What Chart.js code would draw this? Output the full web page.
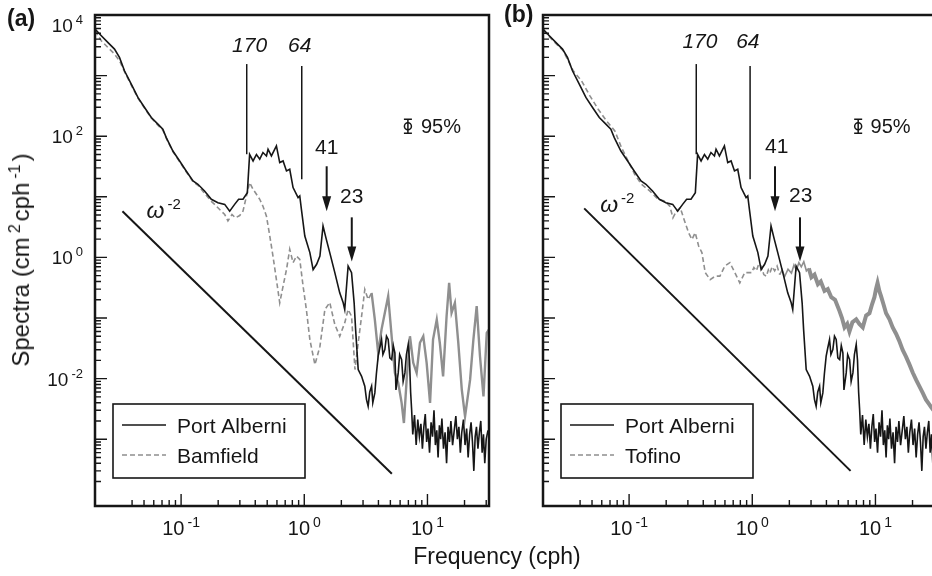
<!DOCTYPE html>
<html>
<head>
<meta charset="utf-8">
<script src="https://cdn.jsdelivr.net/npm/chart.js@4.4.1/dist/chart.umd.min.js"></script>
<style>
  html, body { margin: 0; padding: 0; background: #fff; overflow: hidden; }
  #wrap { position: relative; width: 932px; height: 576px; overflow: hidden;
          font-family: "Liberation Sans", Arial, Helvetica, sans-serif; color: #161616; }
  canvas { position: absolute; top: 0; }
  #chartA { left: 0; }
  #chartB { left: 490px; }
  .ytitle { position: absolute; left: 21px; top: 260px; white-space: nowrap;
            transform: translate(-50%, -50%) rotate(-90deg); font-size: 24px; line-height: 24px; }
  .xtitle { position: absolute; left: 497px; top: 545px; transform: translateX(-50%);
            font-size: 23px; line-height: 23px; white-space: nowrap; }
  sup { font-size: 16px; vertical-align: 9px; line-height: 0; margin: 0 3px 0 4px; }
</style>
</head>
<body>
<div id="wrap">
  <canvas id="chartA" width="500" height="576"></canvas>
  <canvas id="chartB" width="460" height="576"></canvas>
  <div class="ytitle">Spectra (cm<sup>2</sup>cph<sup>-1</sup>)</div>
  <div class="xtitle">Frequency (cph)</div>
</div>
<script>
// Port Alberni (same record in both panels)
const paFreq = [
  0.020, 0.0225, 0.0254, 0.0288, 0.0316, 0.0347, 0.0394, 0.0446, 0.0505, 0.0573,
  0.0648, 0.0711, 0.0758, 0.0858, 0.0973, 0.110, 0.125, 0.137, 0.155, 0.176,
  0.199, 0.226, 0.248, 0.272, 0.293, 0.318, 0.345, 0.360, 0.384, 0.409,
  0.435, 0.462, 0.493, 0.508, 0.541, 0.594, 0.632, 0.673, 0.717, 0.762,
  0.811, 0.891, 0.919, 0.948, 1.01, 1.11, 1.18, 1.26, 1.34, 1.42,
  1.51, 1.61, 1.77, 1.94, 2.07, 2.13, 2.27, 2.42, 2.54, 2.61,
  2.74, 2.92, 3.10, 3.20, 3.30, 3.40, 3.52, 3.60, 3.74, 3.85,
  3.98, 4.10, 4.24, 4.35, 4.51, 4.65, 4.80, 4.95, 5.12, 5.28,
  5.44, 5.55, 5.79, 5.95, 6.17, 6.35, 6.56, 6.75, 6.98, 7.15,
  7.30, 7.44, 7.6, 7.85, 8.1, 8.35, 8.6, 8.85, 9.1, 9.35,
  9.6, 9.85, 10.1, 10.4, 10.7, 11.0, 11.3, 11.6, 11.9, 12.2,
  12.5, 12.8, 13.1, 13.5, 13.9, 14.3, 14.7, 15.1, 15.5, 16.0,
  16.5, 17.0, 17.5, 18.0, 18.5, 19.0, 19.6, 20.2, 20.8, 21.4,
  22.0, 22.6, 23.2, 23.8, 24.4, 25.0, 25.7, 26.4, 27.1, 27.8,
  28.5, 29.2, 30.0, 31.0
];
const paSpec = [
  5870, 4550, 3540, 2740, 2000, 1200, 724, 436, 298, 204,
  158, 131, 95, 57, 39, 26.7, 18.2, 16.1, 12.5, 9.1,
  8.0, 7.5, 5.8, 7.5, 9.1, 9.1, 11.7, 50, 39, 50,
  41.7, 53.8, 47.2, 61, 47.2, 69, 36.7, 39, 26.7, 28.5,
  14.2, 9.7, 10.3, 6.2, 2.25, 1.2, 0.63, 0.77, 1.05, 3.3,
  1.98, 1.2, 0.56, 0.26, 0.178, 0.138, 0.72, 0.56, 0.178, 0.065,
  0.0141, 0.0109, 0.0075, 0.0045, 0.0035, 0.0060, 0.0075, 0.0040, 0.0058, 0.012,
  0.0234, 0.032, 0.0442, 0.025, 0.0301, 0.050, 0.0442, 0.022, 0.0206, 0.035,
  0.0266, 0.0065, 0.0124, 0.025, 0.0206, 0.009, 0.0124, 0.025, 0.0365, 0.02,
  0.006, 0.00307, 0.0012, 0.0025, 0.0008, 0.0021, 0.0011, 0.0018, 0.0007, 0.0016,
  0.0026, 0.0009, 0.0015, 0.0006, 0.0019, 0.0011, 0.0030, 0.0008, 0.0014, 0.0005,
  0.0017, 0.0010, 0.0022, 0.0007, 0.0013, 0.0004, 0.0016, 0.0009, 0.0020, 0.0008,
  0.0014, 0.0024, 0.0010, 0.0016, 0.0006, 0.0013, 0.0021, 0.0008, 0.0015, 0.0005,
  0.0012, 0.0019, 0.0009, 0.0003, 0.0011, 0.0016, 0.0007, 0.0013, 0.0020, 0.0006,
  0.0012, 0.0004, 0.0010, 0.0014
];

// Bamfield (panel a)
const bamFreq = [
  0.020, 0.0225, 0.0254, 0.0288, 0.0316, 0.0347, 0.0394, 0.0446, 0.0505, 0.0573,
  0.0648, 0.0711, 0.0758, 0.0858, 0.0973, 0.110, 0.125, 0.137, 0.155, 0.176,
  0.187, 0.212, 0.226, 0.240, 0.259, 0.276, 0.299, 0.318, 0.339, 0.360,
  0.384, 0.409, 0.435, 0.462, 0.493, 0.525, 0.557, 0.594, 0.632, 0.673,
  0.717, 0.762, 0.811, 0.864, 0.919, 0.978, 1.04, 1.11, 1.22, 1.34,
  1.47, 1.61, 1.77, 1.94, 2.13, 2.27, 2.42, 2.58, 2.74, 2.92,
  3.10, 3.30, 3.52, 3.74, 3.98, 4.24, 4.51, 4.80, 5.12, 5.44,
  5.79, 6.17, 6.44, 6.78, 7.21, 7.67, 8.17, 8.69, 9.25, 9.85,
  10.5, 11.1, 11.9, 12.6, 13.4, 14.3, 15.0, 15.7, 16.7, 17.8,
  19.0, 20.2, 22.2, 23.6, 25.1, 26.7, 28.5, 30.3, 31.6
];
const bamSpec = [
  5500, 3760, 2920, 2270, 1760, 1160, 697, 425, 290, 199,
  152, 126, 92.7, 55.5, 37.9, 25.9, 17.7, 15.5, 11.4, 8.4,
  7.5, 5.8, 5.1, 4.0, 5.1, 4.5, 4.9, 5.8, 10.2, 17.2,
  13.3, 11.0, 9.1, 7.0, 4.8, 2.25, 1.05, 0.43, 0.178, 0.336,
  0.63, 1.36, 0.82, 1.05, 0.93, 0.336, 0.138, 0.044, 0.017, 0.034,
  0.138, 0.18, 0.078, 0.050, 0.083, 0.138, 0.107, 0.0141, 0.039, 0.107,
  0.296, 0.202, 0.26, 0.094, 0.0266, 0.065, 0.122, 0.229, 0.050, 0.0124,
  0.0085, 0.00397, 0.00185, 0.0096, 0.050, 0.0182, 0.0124, 0.039, 0.050, 0.0182,
  0.00397, 0.044, 0.094, 0.039, 0.0109, 0.107, 0.382, 0.122, 0.178, 0.039,
  0.0066, 0.00238, 0.0096, 0.044, 0.157, 0.0234, 0.0051, 0.057, 0.065
];

// Tofino (panel b)
const tofFreq = [
  0.0201, 0.0292, 0.0352, 0.0411, 0.0481, 0.0561, 0.0655, 0.0766, 0.0867, 0.0982,
  0.111, 0.126, 0.147, 0.172, 0.195, 0.214, 0.227, 0.242, 0.260, 0.282,
  0.304, 0.324, 0.344, 0.367, 0.390, 0.415, 0.455, 0.500, 0.546, 0.598,
  0.658, 0.722, 0.792, 0.869, 0.986, 1.03, 1.08, 1.13, 1.19, 1.24,
  1.30, 1.35, 1.39, 1.45, 1.52, 1.59, 1.67, 1.75, 1.83, 1.95,
  2.08, 2.18, 2.28, 2.39, 2.50, 2.62, 2.75, 2.88, 3.02, 3.2,
  3.41, 3.6, 3.86, 4.1, 4.38, 4.7, 5.11, 5.35, 5.61, 5.9,
  6.15, 6.5, 6.98, 7.4, 7.89, 8.4, 8.94, 9.4, 9.81, 10.1,
  10.4, 10.75, 11.1, 11.6, 12.2, 13.0, 13.8, 14.7, 15.6, 16.6,
  17.7, 18.9, 20.1, 21.4, 22.7, 24.2, 25.7, 27.0, 28.3, 30.0, 31.6
];
const tofSpec = [
  5500, 2570, 1200, 820, 463, 279, 179, 122, 65, 39,
  23.5, 16.1, 12.5, 9.1, 8.5, 7.0, 4.5, 5.8, 6.6, 4.0,
  2.56, 1.98, 2.56, 1.54, 1.2, 0.56, 0.43, 0.49, 0.49, 0.72,
  0.82, 0.56, 0.38, 0.56, 0.56, 0.68, 0.60, 0.78, 0.70, 0.52,
  0.49, 0.62, 0.55, 0.70, 0.60, 0.72, 0.52, 0.62, 0.48, 0.64,
  0.55, 0.75, 0.62, 0.82, 0.70, 0.85, 0.60, 0.66, 0.47, 0.52,
  0.36, 0.40, 0.28, 0.30, 0.22, 0.20, 0.13, 0.10, 0.07, 0.08,
  0.06, 0.085, 0.095, 0.08, 0.07, 0.11, 0.12, 0.17, 0.22, 0.30,
  0.38, 0.28, 0.23, 0.17, 0.12, 0.095, 0.07, 0.055, 0.042, 0.03,
  0.023, 0.017, 0.0125, 0.0095, 0.0075, 0.0058, 0.0045, 0.0039, 0.0034, 0.0029, 0.0026
];

// omega^-2 reference slope, one per panel
const slopeFreqA = [0.0334, 5.14];
const slopeSpecA = [5.76, 2.69e-4];
const slopeFreqB = [0.0432, 6.28];
const slopeSpecB = [6.45, 3.0e-4];

// axis ranges and labelled decades
const xRange = [0.02, 31.6];
const yRange = [7.9e-5, 1e4];
const xLabelExps = [-1, 0, 1];
const yLabelExps = [4, 2, 0, -2];

const INK = '#161616';
const GRAY = '#8f8f8f';
const FONT = '"Liberation Sans", Arial, Helvetica, sans-serif';

function pts(xs, ys) {
    return xs.map((v, i) => ({ x: v, y: ys[i] }));
}

// "10" with a raised exponent
function drawPow(ctx, exp, x, base, align, size) {
    const sup = exp < 0 ? '-' + Math.abs(exp) : String(exp);
    const supSize = Math.round(size * 0.68);
    ctx.font = size + 'px ' + FONT;
    const w1 = ctx.measureText('10').width;
    ctx.font = supSize + 'px ' + FONT;
    const w2 = ctx.measureText(sup).width;
    const gap = 3;
    const total = w1 + gap + w2;
    let x0 = x;
    if (align === 'center') x0 = x - total / 2;
    else if (align === 'right') x0 = x - total;
    ctx.textAlign = 'left';
    ctx.textBaseline = 'alphabetic';
    ctx.font = size + 'px ' + FONT;
    ctx.fillText('10', x0, base);
    ctx.font = supSize + 'px ' + FONT;
    ctx.fillText(sup, x0 + w1 + gap, base - size * 0.42);
}

function makeDecor(p) {
    return {
        id: 'decor',
        afterDatasetsDraw(chart) {
            const { ctx, chartArea: a } = chart;
            const x = chart.scales.x, y = chart.scales.y;
            ctx.save();
            ctx.fillStyle = INK;
            ctx.strokeStyle = INK;

            // inward ticks, left and bottom
            ctx.lineWidth = 1.4;
            ctx.beginPath();
            for (let d = -5; d <= 4; d++) {
                for (let m = 1; m <= 9; m++) {
                    const v = m * Math.pow(10, d);
                    if (v >= y.min && v <= y.max) {
                        const py = y.getPixelForValue(v);
                        if (a.bottom - py > 8) {
                            ctx.moveTo(a.left, py);
                            ctx.lineTo(a.left + (m === 1 ? 12 : 6), py);
                        }
                    }
                    if (v >= x.min && v <= x.max) {
                        const px = x.getPixelForValue(v);
                        if (px - a.left > 25) {
                            ctx.moveTo(px, a.bottom);
                            ctx.lineTo(px, a.bottom - (m === 1 ? 12 : 6));
                        }
                    }
                }
            }
            ctx.stroke();

            // frame
            ctx.lineWidth = 2.5;
            ctx.strokeRect(a.left, a.top, a.right - a.left, a.bottom - a.top);

            // tick labels
            xLabelExps.forEach(e => drawPow(ctx, e, x.getPixelForValue(Math.pow(10, e)), a.bottom + 29, 'center', 20));
            if (p.yLabels) {
                yLabelExps.forEach(e => {
                    const py = Math.max(y.getPixelForValue(Math.pow(10, e)), a.top + 10);
                    drawPow(ctx, e, a.left - 12, py + 7, 'right', 19);
                });
            }

            // panel tag
            ctx.font = 'bold 23px ' + FONT;
            ctx.textAlign = 'left';
            ctx.fillText(p.tag, a.left + p.tagDx, p.tagY);

            // period markers
            ctx.lineWidth = 1.5;
            p.lines.forEach(l => {
                const px = x.getPixelForValue(l.f);
                ctx.beginPath();
                ctx.moveTo(px, y.getPixelForValue(l.top));
                ctx.lineTo(px, y.getPixelForValue(l.bottom));
                ctx.stroke();
            });
            ctx.lineWidth = 2;
            p.arrows.forEach(l => {
                const px = x.getPixelForValue(l.f);
                const tip = y.getPixelForValue(l.tip);
                ctx.beginPath();
                ctx.moveTo(px, y.getPixelForValue(l.top));
                ctx.lineTo(px, tip - 10);
                ctx.stroke();
                ctx.beginPath();
                ctx.moveTo(px - 4.5, tip - 15);
                ctx.lineTo(px + 4.5, tip - 15);
                ctx.lineTo(px, tip);
                ctx.closePath();
                ctx.fill();
            });
            ctx.textAlign = 'center';
            p.notes.forEach(n => {
                ctx.font = (n.italic ? 'italic ' : '') + '21px ' + FONT;
                ctx.fillText(n.text, x.getPixelForValue(n.f), y.getPixelForValue(n.s));
            });

            // omega^-2 label
            const ox = x.getPixelForValue(p.omega.f), oy = y.getPixelForValue(p.omega.s);
            ctx.textAlign = 'left';
            ctx.font = 'italic 23px ' + FONT;
            ctx.fillText('\u03c9', ox, oy);
            const ow = ctx.measureText('\u03c9').width;
            ctx.font = '15px ' + FONT;
            ctx.fillText('-2', ox + ow + 3, oy - 9);

            // 95% confidence bar
            const bx = x.getPixelForValue(p.bar.f), by = y.getPixelForValue(p.bar.s);
            ctx.lineWidth = 1.5;
            ctx.beginPath();
            ctx.moveTo(bx, by - 7); ctx.lineTo(bx, by + 7);
            ctx.moveTo(bx - 4, by - 7); ctx.lineTo(bx + 4, by - 7);
            ctx.moveTo(bx - 4, by + 7); ctx.lineTo(bx + 4, by + 7);
            ctx.stroke();
            ctx.beginPath();
            ctx.arc(bx, by, 3.5, 0, Math.PI * 2);
            ctx.stroke();
            ctx.font = '20px ' + FONT;
            ctx.fillText('95%', x.getPixelForValue(p.bar.textF), by + 7);

            // legend box
            const lx = a.left + 18, ly = a.top + 389;
            ctx.fillStyle = '#fff';
            ctx.fillRect(lx, ly, 192, 74);
            ctx.strokeStyle = INK;
            ctx.lineWidth = 1.6;
            ctx.strokeRect(lx, ly, 192, 74);
            const ds = chart.data.datasets;
            [0, 1].forEach(i => {
                const sy = ly + 21 + i * 30;
                ctx.strokeStyle = ds[i].borderColor;
                ctx.lineWidth = 1.6;
                ctx.setLineDash(i === 1 ? [5, 3] : []);
                ctx.beginPath();
                ctx.moveTo(lx + 9, sy); ctx.lineTo(lx + 53, sy);
                ctx.stroke();
                ctx.setLineDash([]);
                ctx.fillStyle = INK;
                ctx.font = '21px ' + FONT;
                ctx.fillText(ds[i].label, lx + 64, sy + 8);
            });
            ctx.restore();
        }
    };
}

// dashUntil: the comparison record is dashed below this frequency;
// above thickFrom its noisy spectrum reads as a broader grey band
function makeChart(id, other, otherLabel, dashUntil, thickFrom, thickW, slopeF, slopeS, pad, panel) {
    return new Chart(document.getElementById(id), {
        type: 'line',
        data: {
            datasets: [
                { label: 'Port Alberni', data: pts(paFreq, paSpec), borderColor: INK, borderWidth: 1.6 },
                {
                    label: otherLabel, data: other, borderColor: GRAY, borderWidth: 1.6, borderDash: [],
                    segment: {
                        borderDash: c => (c.p0.parsed.x < dashUntil ? [5, 3] : []),
                        borderWidth: c => (c.p0.parsed.x < thickFrom ? 1.6 : thickW)
                    }
                },
                { label: 'slope', data: pts(slopeF, slopeS), borderColor: INK, borderWidth: 2 }
            ]
        },
        options: {
            responsive: false,
            animation: false,
            layout: { padding: pad },
            elements: { point: { radius: 0 }, line: { tension: 0 } },
            scales: {
                x: { type: 'logarithmic', min: xRange[0], max: xRange[1], display: false },
                y: { type: 'logarithmic', min: yRange[0], max: yRange[1], display: false }
            },
            plugins: { legend: { display: false }, tooltip: { enabled: false } }
        },
        plugins: [makeDecor(panel)]
    });
}

makeChart('chartA', pts(bamFreq, bamSpec), 'Bamfield', 3.5, 3.5, 2.4, slopeFreqA, slopeSpecA,
    { left: 95, top: 15, right: 11, bottom: 70 },
    {
        tag: '(a)', tagDx: -88, tagY: 26, yLabels: true,
        lines: [{ f: 0.341, top: 1550, bottom: 50.4 }, { f: 0.954, top: 1435, bottom: 19.5 }],
        arrows: [{ f: 1.52, top: 31.9, tip: 5.76 }, { f: 2.43, top: 4.58, tip: 0.859 }],
        notes: [
            { text: '170', f: 0.360, s: 2445, italic: true },
            { text: '64', f: 0.919, s: 2445, italic: true },
            { text: '41', f: 1.52, s: 50.4 },
            { text: '23', f: 2.43, s: 7.81 }
        ],
        omega: { f: 0.0524, s: 4.41 },
        bar: { f: 6.94, s: 146, textF: 8.85 }
    });

makeChart('chartB', pts(tofFreq, tofSpec), 'Tofino', 1.6, 2.8, 4, slopeFreqB, slopeSpecB,
    { left: 53, top: 15, right: 13, bottom: 70 },
    {
        tag: '(b)', tagDx: -39, tagY: 22, yLabels: false,
        lines: [{ f: 0.351, top: 1550, bottom: 50.4 }, { f: 0.960, top: 1435, bottom: 19.5 }],
        arrows: [{ f: 1.53, top: 31.9, tip: 5.76 }, { f: 2.44, top: 4.58, tip: 0.859 }],
        notes: [
            { text: '170', f: 0.376, s: 2850, italic: true },
            { text: '64', f: 0.920, s: 2850, italic: true },
            { text: '41', f: 1.58, s: 52.4 },
            { text: '23', f: 2.47, s: 8.11 }
        ],
        omega: { f: 0.0582, s: 5.54 },
        bar: { f: 7.24, s: 146, textF: 9.12 }
    });
</script>
</body>
</html>
